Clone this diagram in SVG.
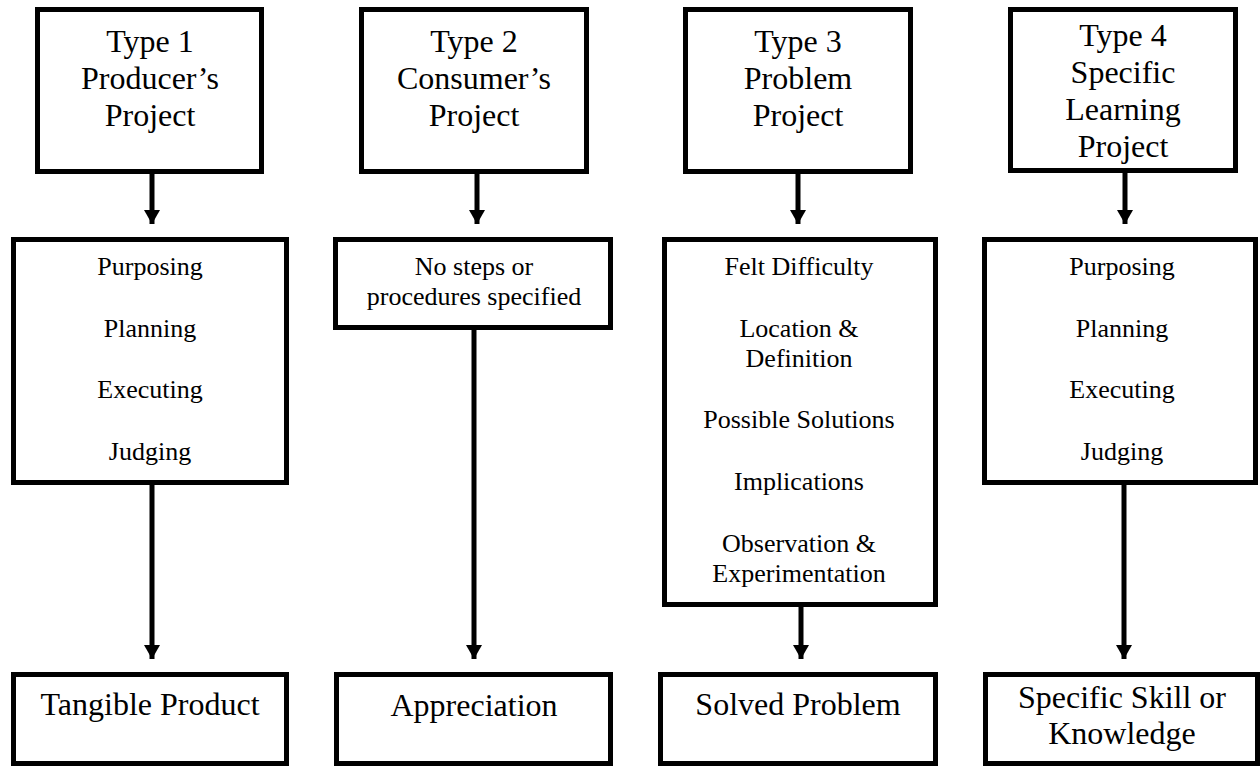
<svg xmlns="http://www.w3.org/2000/svg" width="1260" height="766" viewBox="0 0 1260 766">
<style>
.box{fill:#fff;stroke:#000;stroke-width:5}
.t{font-family:"Liberation Serif","Times New Roman",serif;fill:#000;text-anchor:middle}
.h{font-size:32px}
.m{font-size:26px}
.c{stroke:#000;stroke-width:5;fill:none}
</style>
<defs>
<marker id="ah" markerUnits="userSpaceOnUse" markerWidth="16" markerHeight="16" viewBox="0 0 16 16" refX="14" refY="8" orient="auto">
<path d="M0,0 L14,8 L0,16 Z" fill="#000"/>
</marker>
</defs>
<rect width="1260" height="766" fill="#fff"/>
<g id="connectors">
<line class="c" x1="152" y1="174" x2="152" y2="224" marker-end="url(#ah)"/>
<line class="c" x1="477" y1="174" x2="477" y2="224" marker-end="url(#ah)"/>
<line class="c" x1="798" y1="174" x2="798" y2="224" marker-end="url(#ah)"/>
<line class="c" x1="1125" y1="173" x2="1125" y2="224" marker-end="url(#ah)"/>
<line class="c" x1="152" y1="485" x2="152" y2="659" marker-end="url(#ah)"/>
<line class="c" x1="474" y1="330" x2="474" y2="659" marker-end="url(#ah)"/>
<line class="c" x1="801" y1="607" x2="801" y2="659" marker-end="url(#ah)"/>
<line class="c" x1="1124" y1="485" x2="1124" y2="659" marker-end="url(#ah)"/>
</g>
<g id="type1">
<rect class="box" x="37.5" y="9.5" width="224" height="162"/>
<text class="t h" x="150" y="52">Type 1</text>
<text class="t h" x="150" y="89">Producer’s</text>
<text class="t h" x="150" y="126">Project</text>
</g>
<g id="type2">
<rect class="box" x="361.5" y="9.5" width="225" height="162"/>
<text class="t h" x="474" y="52">Type 2</text>
<text class="t h" x="474" y="89">Consumer’s</text>
<text class="t h" x="474" y="126">Project</text>
</g>
<g id="type3">
<rect class="box" x="685.5" y="9.5" width="225" height="162"/>
<text class="t h" x="798" y="52">Type 3</text>
<text class="t h" x="798" y="89">Problem</text>
<text class="t h" x="798" y="126">Project</text>
</g>
<g id="type4">
<rect class="box" x="1010.5" y="9.5" width="225" height="161"/>
<text class="t h" x="1123" y="46">Type 4</text>
<text class="t h" x="1123" y="83">Specific</text>
<text class="t h" x="1123" y="120">Learning</text>
<text class="t h" x="1123" y="157">Project</text>
</g>
<g id="steps1">
<rect class="box" x="13.5" y="239.5" width="273" height="243"/>
<text class="t m" x="150" y="275">Purposing</text>
<text class="t m" x="150" y="337">Planning</text>
<text class="t m" x="150" y="398">Executing</text>
<text class="t m" x="150" y="460">Judging</text>
</g>
<g id="steps2">
<rect class="box" x="335.5" y="239.5" width="275" height="88"/>
<text class="t m" x="474" y="275">No steps or</text>
<text class="t m" x="474" y="305">procedures specified</text>
</g>
<g id="steps3">
<rect class="box" x="664.5" y="239.5" width="271" height="365"/>
<text class="t m" x="799" y="275">Felt Difficulty</text>
<text class="t m" x="799" y="337">Location &amp;</text>
<text class="t m" x="799" y="367">Definition</text>
<text class="t m" x="799" y="428">Possible Solutions</text>
<text class="t m" x="799" y="490">Implications</text>
<text class="t m" x="799" y="552">Observation &amp;</text>
<text class="t m" x="799" y="582">Experimentation</text>
</g>
<g id="steps4">
<rect class="box" x="984.5" y="239.5" width="271" height="243"/>
<text class="t m" x="1122" y="275">Purposing</text>
<text class="t m" x="1122" y="337">Planning</text>
<text class="t m" x="1122" y="398">Executing</text>
<text class="t m" x="1122" y="460">Judging</text>
</g>
<g id="result1">
<rect class="box" x="13.5" y="674.5" width="273" height="89"/>
<text class="t h" x="150" y="715">Tangible Product</text>
</g>
<g id="result2">
<rect class="box" x="336.5" y="674.5" width="274" height="89"/>
<text class="t h" x="474" y="716">Appreciation</text>
</g>
<g id="result3">
<rect class="box" x="660.5" y="674.5" width="275" height="89"/>
<text class="t h" x="798" y="715">Solved Problem</text>
</g>
<g id="result4">
<rect class="box" x="985.5" y="674.5" width="272" height="89"/>
<text class="t h" x="1122" y="708">Specific Skill or</text>
<text class="t h" x="1122" y="744">Knowledge</text>
</g>
</svg>
